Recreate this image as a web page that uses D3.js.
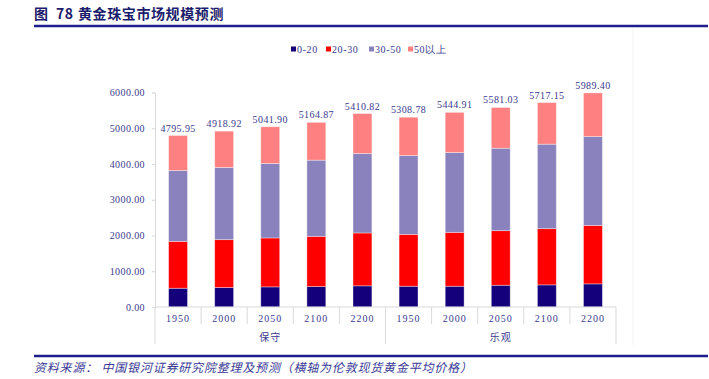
<!DOCTYPE html>
<html><head><meta charset="utf-8">
<script src="https://cdn.jsdelivr.net/npm/d3@7"></script>
<style>
html,body{margin:0;padding:0;background:#fff;}
svg{display:block;}
</style></head>
<body>
<svg id="c" width="709" height="379"></svg>
<script>
// ---- data ----
const years = ["1950","2000","2050","2100","2200","1950","2000","2050","2100","2200"];
const groups = ["保守","乐观"];
const seriesNames = ["0-20","20-30","30-50","50以上"];
const s0_20  = [525, 544, 563, 572, 592, 581, 581, 609, 619, 647];
const s20_30 = [1311,1340,1368,1405,1479,1451,1507,1526,1572,1636];
const s30_50 = [1982,2018,2083,2131,2221,2205,2233,2307,2364,2484];
const s50up  = [978, 1017,1028,1057,1119,1072,1124,1139,1162,1222];
const totalLabels = ["4795.95","4918.92","5041.90","5164.87","5410.82","5308.78","5444.91","5581.03","5717.15","5989.40"];
const yTicks = [0,1000,2000,3000,4000,5000,6000];
const colors = ["#14007a","#ff0000","#8a82bd","#ff8080"];

const svg = d3.select("#c");
const textCol = "#3a3a8e";
const numFont = "'Liberation Serif', 'DejaVu Serif', serif";
const cjkFont = "'Noto Sans CJK SC', sans-serif";

// title
const title = svg.append("text").attr("y",19)
  .attr("font-family",cjkFont).attr("font-weight","bold").attr("font-size",14)
  .attr("fill","#1c1c6c").attr("letter-spacing","0.6px");
title.append("tspan").attr("x",34).text("图");
title.append("tspan").attr("x",56).text("78");
title.append("tspan").attr("x",78).text("黄金珠宝市场规模预测");
svg.append("line").attr("x1",34).attr("x2",708).attr("y1",26).attr("y2",26)
  .attr("stroke","#1e1e8c").attr("stroke-width",2.5);

// scales
const idx = d3.range(years.length);
const x = d3.scaleBand().domain(idx).range([155,616]).paddingInner(0.59).paddingOuter(0.295);
const y = d3.scaleLinear().domain([0,6000]).range([307,92.5]);

// stacked data
const table = idx.map(i => ({i, "0-20":s0_20[i], "20-30":s20_30[i], "30-50":s30_50[i], "50以上":s50up[i]}));
const stacked = d3.stack().keys(seriesNames)(table);

// y axis
const yAxis = svg.append("g").attr("transform","translate(155,0)")
  .call(d3.axisLeft(y).tickValues(yTicks).tickFormat(d3.format(".2f")).tickSize(3).tickPadding(7));
yAxis.select(".domain").attr("stroke","#d9d9d9");
yAxis.selectAll(".tick line").attr("stroke","#d9d9d9");
yAxis.selectAll(".tick text").attr("font-family",numFont).attr("font-size",10)
  .attr("letter-spacing","0.4px").attr("fill",textCol);

// bars
svg.append("g").selectAll("g").data(stacked).join("g")
  .attr("fill",(d,k)=>colors[k])
  .selectAll("rect").data(d=>d).join("rect")
  .attr("x",d=>x(d.data.i)).attr("width",x.bandwidth())
  .attr("y",d=>y(d[1])).attr("height",d=>y(d[0])-y(d[1]))
  .attr("stroke","rgba(255,255,255,0.45)").attr("stroke-width",0.8);

// total labels
svg.append("g").selectAll("text").data(idx).join("text")
  .attr("x",i=>x(i)+x.bandwidth()/2)
  .attr("y",i=>y(s0_20[i]+s20_30[i]+s30_50[i]+s50up[i])-4)
  .attr("text-anchor","middle").attr("font-family",numFont).attr("font-size",10)
  .attr("letter-spacing","0.4px").attr("fill",textCol).text(i=>totalLabels[i]);

// x axis
const step = x.step();
const x0 = 155, gridCol = "#d9d9d9";
const xa = svg.append("g");
xa.append("line").attr("x1",x0).attr("x2",616).attr("y1",307).attr("y2",307).attr("stroke",gridCol);
idx.forEach(i=>{
  const left = x(i) - x.paddingOuter()*step;
  const isGroupEdge = (i % 5 === 0);
  xa.append("line").attr("x1",left).attr("x2",left).attr("y1",307).attr("y2",isGroupEdge?344:324).attr("stroke",gridCol);
});
xa.append("line").attr("x1",616).attr("x2",616).attr("y1",307).attr("y2",344).attr("stroke",gridCol);
xa.selectAll("text.yr").data(idx).join("text").attr("class","yr")
  .attr("x",i=>x(i)+x.bandwidth()/2).attr("y",322)
  .attr("text-anchor","middle").attr("font-family",numFont).attr("font-size",10)
  .attr("letter-spacing","1px").attr("fill",textCol).text(i=>years[i]);
groups.forEach((g,k)=>{
  const a = x(k*5) - x.paddingOuter()*step;
  const b = x(k*5+4) + x.bandwidth() + x.paddingOuter()*step;
  xa.append("text").attr("x",(a+b)/2).attr("y",341).attr("text-anchor","middle")
    .attr("font-family",cjkFont).attr("font-size",10).attr("letter-spacing","1px")
    .attr("fill",textCol).text(g);
});

// faint chart frame edge
svg.append("line").attr("x1",633).attr("x2",633).attr("y1",28).attr("y2",345).attr("stroke","#f3f3f3");

// legend
const legX = [291,326,369,408];
const lg = svg.append("g");
seriesNames.forEach((n,k)=>{
  lg.append("rect").attr("x",legX[k]).attr("y",46.5).attr("width",5).attr("height",5).attr("fill",colors[k]);
  lg.append("text").attr("x",legX[k]+6).attr("y",52.5).attr("font-family",numFont)
    .attr("font-size",10).attr("letter-spacing","0.6px").attr("fill",textCol).text(n);
});

// bottom rule and source
svg.append("line").attr("x1",34).attr("x2",708).attr("y1",356).attr("y2",356)
  .attr("stroke","#1e1e8c").attr("stroke-width",2.5);
svg.append("text").attr("x",34).attr("y",372).attr("font-family",cjkFont).attr("font-style","italic")
  .attr("font-size",12).attr("letter-spacing","0.8px").attr("fill","#3a3a96")
  .text("资料来源： 中国银河证券研究院整理及预测（横轴为伦敦现货黄金平均价格）");
</script>
</body></html>
